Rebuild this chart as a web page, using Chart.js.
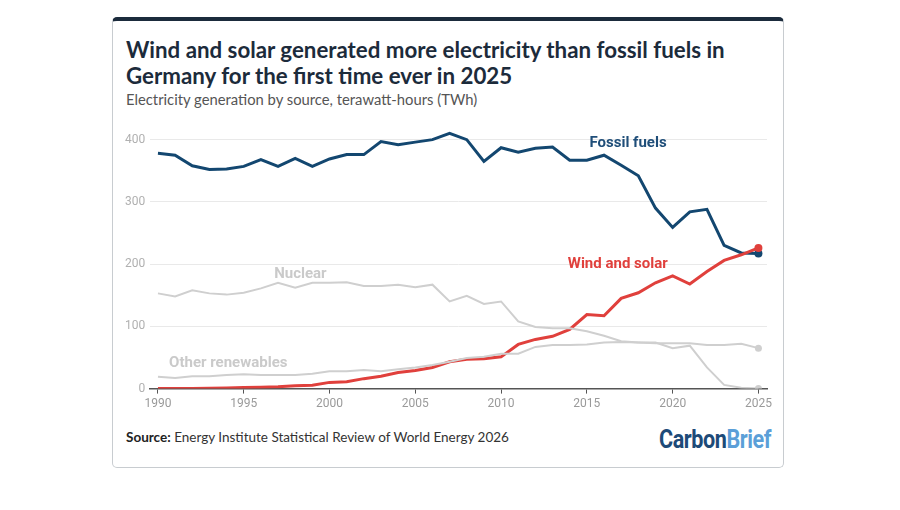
<!DOCTYPE html>
<html>
<head>
<meta charset="utf-8">
<script src="https://cdn.jsdelivr.net/npm/chart.js@4.4.1/dist/chart.umd.min.js"></script>
<style>
  html, body { margin:0; padding:0; background:#fff; width:900px; height:510px; overflow:hidden; }
  #card { position:absolute; left:112px; top:17px; width:670px; height:446px; border:1px solid #c8ccd0; border-top:4px solid #1b2b3c; border-radius:5px; box-sizing:content-box; }
  #title { position:absolute; left:126px; top:37px; width:650px; font-family:Lato, sans-serif; font-weight:700; font-size:22.3px; line-height:26px; color:#1c2b3b; }
  #subtitle { position:absolute; left:126px; top:90px; font-family:Lato, sans-serif; font-size:14.8px; color:#555; }
  #source { position:absolute; left:126px; top:429px; font-family:Lato, sans-serif; font-size:13.5px; color:#333; }
  #source b { color:#222; }
  #logo { position:absolute; right:129px; top:424px; font-family:Roboto, sans-serif; font-weight:700; font-size:26px; transform:scaleX(0.83); transform-origin:right center; letter-spacing:-0.5px; }
  #logo .c { color:#1d4a78; } #logo .b { color:#5b9fd8; }
  #wrap { position:absolute; left:120px; top:115px; width:660px; height:305px; }
</style>
</head>
<body>
<div id="card"></div>
<div id="title">Wind and solar generated more electricity than fossil fuels in Germany for the first time ever in 2025</div>
<div id="subtitle">Electricity generation by source, terawatt-hours (TWh)</div>
<div id="wrap"><canvas id="c"></canvas></div>
<div id="source"><b>Source:</b> Energy Institute Statistical Review of World Energy 2026</div>
<div id="logo"><span class="c">Carbon</span><span class="b">Brief</span></div>
<script>
const years = [1990,1991,1992,1993,1994,1995,1996,1997,1998,1999,2000,2001,2002,2003,2004,2005,2006,2007,2008,2009,2010,2011,2012,2013,2014,2015,2016,2017,2018,2019,2020,2021,2022,2023,2024,2025];
const fossilFuels = [378,375,358,352,353,357,368,357,370,357,369,376,376,397,392,396,400,410,400,365,387,380,386,388,367,367,375,359,342,290,259,284,288,230,218,217];
const windSolar = [0.1,0.2,0.3,0.7,0.9,1.7,2.2,3.0,4.5,5.5,10,11,16,20,26,29,34,43,47,48,51,71,79,84,95,119,117,145,154,170,181,168,188,206,215,226];
const nuclear = [153,148,158,153,151,154,161,170,162,170,170,171,165,165,167,163,167,140,149,136,140,108,99,97,97,92,85,76,74,74,65,69,34,6,1.5,0];
const otherRenewables = [19,17,20,20,22,23,22,22,22,24,28,28,30,28,31,34,38,43,49,51,56,56,67,70,70,71,74,75,74,73,73,73,70,70,72,65];
const yTicks = [0,100,200,300,400];
const xTicks = [1990,1995,2000,2005,2010,2015,2020,2025];

const seriesNames = ['Other renewables','Nuclear','Wind and solar','Fossil fuels'];
const seriesLabelAt = [
  {text:'Fossil fuels', x:2017.4, y:394, color:'#1f4e79'},
  {text:'Wind and solar', x:2016.8, y:200, color:'#e0403c'},
  {text:'Nuclear', x:1998.3, y:184, color:'#cacaca'},
  {text:'Other renewables', x:1994.1, y:41, color:'#cacaca'}
];

function pts(arr){ return arr.map((v,i)=>({x:years[i], y:v})); }
function lastDot(arr, r){ return arr.map((v,i)=> i===arr.length-1 ? r : 0); }

const labelPlugin = {
  id:'seriesLabels',
  afterDatasetsDraw(chart){
    const ctx = chart.ctx, xs = chart.scales.x, ys = chart.scales.y;
    ctx.save();
    ctx.font = 'bold 15px Roboto, sans-serif';
    ctx.textAlign = 'center'; ctx.textBaseline = 'middle';
    seriesLabelAt.forEach(l=>{
      ctx.fillStyle = l.color;
      ctx.fillText(l.text, xs.getPixelForValue(l.x), ys.getPixelForValue(l.y));
    });
    ctx.restore();
  }
};

new Chart(document.getElementById('c'), {
  type:'line',
  data:{
    datasets:[
      {label:seriesNames[0], data:pts(otherRenewables), borderColor:'#cfcfcf', backgroundColor:'#cfcfcf', borderWidth:2, pointRadius:lastDot(otherRenewables,3.5), pointBorderWidth:0, tension:0},
      {label:seriesNames[1], data:pts(nuclear), borderColor:'#cfcfcf', backgroundColor:'#cfcfcf', borderWidth:2, pointRadius:lastDot(nuclear,3.5), pointBorderWidth:0, tension:0},
      {label:seriesNames[2], data:pts(windSolar), borderColor:'#e0403c', backgroundColor:'#e0403c', borderWidth:3, pointRadius:lastDot(windSolar,4), pointBorderWidth:0, tension:0},
      {label:seriesNames[3], data:pts(fossilFuels), borderColor:'#134770', backgroundColor:'#134770', borderWidth:3, pointRadius:lastDot(fossilFuels,4), pointBorderWidth:0, tension:0}
    ]
  },
  options:{
    responsive:true, maintainAspectRatio:false, animation:false,
    layout:{padding:{left:0, right:13, top:9, bottom:6}},
    plugins:{legend:{display:false}, tooltip:{enabled:false}},
    scales:{
      x:{
        type:'linear', min:1989.55, max:2025.5,
        afterBuildTicks(ax){ ax.ticks = xTicks.map(v=>({value:v})); },
        grid:{display:true, drawOnChartArea:false, drawTicks:true, tickLength:5, color:'#555', lineWidth:1},
        border:{display:true, color:'#555', width:1.5},
        ticks:{color:'#9a9a9a', font:{family:'Roboto', size:12}, padding:3, autoSkip:false, maxRotation:0, callback:v=>String(v)}
      },
      y:{
        min:0, max:420,
        afterBuildTicks(ax){ ax.ticks = yTicks.map(v=>({value:v})); },
        grid:{color:'#e9e9e9', lineWidth:1, drawTicks:false},
        border:{display:false},
        ticks:{color:'#b0b0b0', font:{family:'Roboto', size:12}, padding:5}
      }
    }
  },
  plugins:[labelPlugin]
});
</script>
</body>
</html>
